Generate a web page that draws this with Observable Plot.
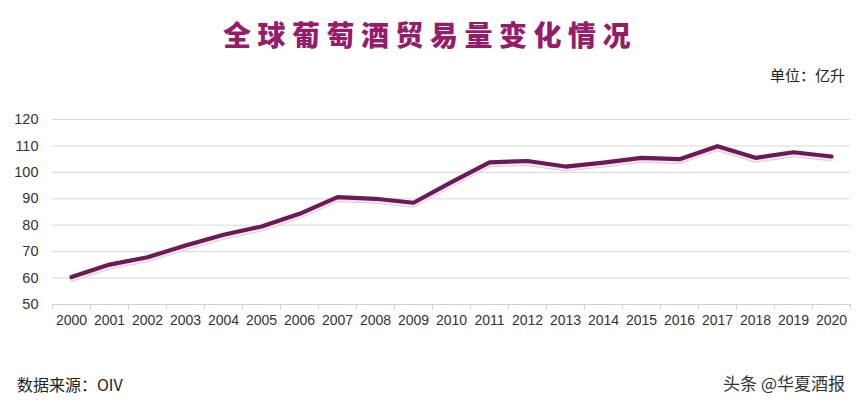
<!DOCTYPE html>
<html>
<head>
<meta charset="utf-8">
<script src="https://cdn.jsdelivr.net/npm/d3@7"></script>
<script src="https://cdn.jsdelivr.net/npm/@observablehq/plot@0.6"></script>
<style>
  html, body { margin: 0; padding: 0; background: #fff; }
  #fig { position: relative; width: 860px; height: 406px; overflow: hidden; font-family: "Noto Sans CJK SC", "Noto Sans", sans-serif; }
  #title { position: absolute; left: 0; width: 860px; top: 14px; text-align: center; font-size: 28px; font-weight: 900; letter-spacing: 6.5px; color: #951c68; line-height: 40px; }
  #unit { position: absolute; right: 15px; top: 64px; font-size: 15px; color: #222; }
  #source { position: absolute; left: 17px; top: 372px; font-size: 16px; color: #222; }
  #credit { position: absolute; right: 15px; top: 370px; font-size: 17px; color: #333; }
  #chart { position: absolute; left: 0; top: 0; }
</style>
</head>
<body>
<div id="fig">
  <div id="chart"></div>
  <div id="title">全球葡萄酒贸易量变化情况</div>
  <div id="unit">单位：亿升</div>
  <div id="source">数据来源：OIV</div>
  <div id="credit">头条 @华夏酒报</div>
</div>
<script>
const years = ["2000","2001","2002","2003","2004","2005","2006","2007","2008","2009","2010","2011","2012","2013","2014","2015","2016","2017","2018","2019","2020"];
const volumes = [60.4, 65.1, 67.9, 72.3, 76.4, 79.5, 84.3, 90.6, 90.0, 88.5, 96.3, 103.8, 104.3, 102.2, 103.7, 105.5, 105.0, 109.9, 105.5, 107.6, 106.0];
const yTicks = [50, 60, 70, 80, 90, 100, 110, 120];

const data = years.map((y, i) => ({i, year: y, v: volumes[i]}));
const idx = years.map((_, i) => i);
const bounds = d3.range(years.length + 1).map(i => i - 0.5);

const chart = Plot.plot({
  width: 860,
  height: 406,
  marginTop: 119,
  marginBottom: 102,
  marginLeft: 52,
  marginRight: 10,
  style: { fontFamily: "Liberation Sans, Arial, sans-serif", fontSize: "14px", color: "#333", background: "transparent" },
  x: { type: "linear", domain: [-0.5, years.length - 0.5] },
  y: { domain: [50, 120] },
  marks: [
    Plot.gridY(yTicks, { stroke: "#d9d9d9", strokeOpacity: 1, strokeWidth: 1 }),
    Plot.axisY(yTicks, { tickSize: 0, tickPadding: 14, fill: "#333", fontSize: 14.5, label: null }),
    Plot.ruleY([50], { stroke: "#d0d0d0" }),
    Plot.axisX(bounds, { tickSize: 5, stroke: "#d0d0d0", tickFormat: () => "", label: null }),
    Plot.axisX(idx, { tickSize: 0, tickPadding: 11, tickFormat: i => years[i], fill: "#333", fontSize: 14, label: null }),
    Plot.line(data, { x: "i", y: "v", stroke: "#d8d0d6", strokeWidth: 3, dy: 3.5, strokeLinejoin: "round" }),
    Plot.line(data, { x: "i", y: "v", stroke: "#f6e4f2", strokeWidth: 4, dy: 2, strokeLinejoin: "round" }),
    Plot.line(data, { x: "i", y: "v", stroke: "#6a1a56", strokeWidth: 4.2, strokeLinejoin: "round" })
  ]
});
document.getElementById("chart").appendChild(chart);
</script>
</body>
</html>
